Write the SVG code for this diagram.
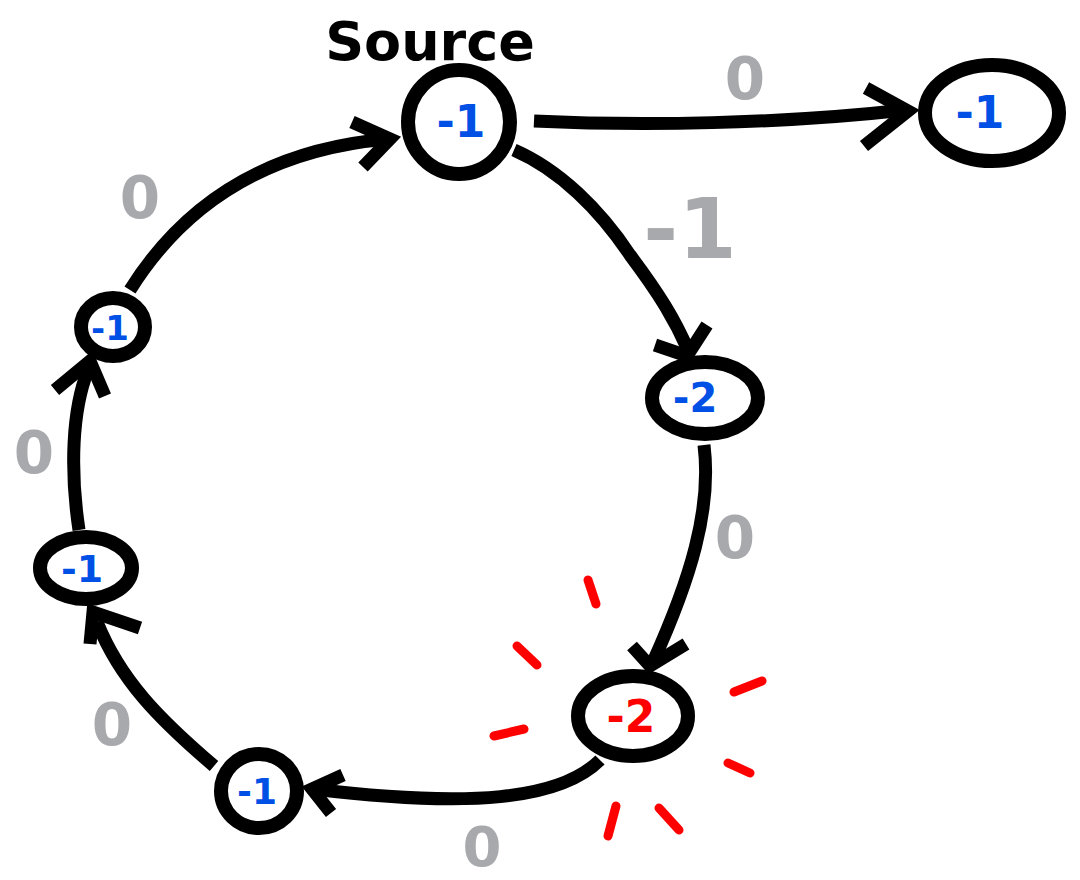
<svg xmlns="http://www.w3.org/2000/svg" width="1080" height="880" viewBox="0 0 1080 880">
<style>
.node{fill:#fff;stroke:#000;stroke-width:14}
.edge{fill:none;stroke:#000;stroke-width:13;stroke-linecap:butt;stroke-linejoin:round}
.head{fill:none;stroke:#000;stroke-width:13;stroke-linecap:butt;stroke-linejoin:miter}
.val{font-family:"DejaVu Sans","Liberation Sans",sans-serif;font-weight:bold;fill:#0050e6;text-anchor:middle}
.red{fill:#ff0000}
.w{font-family:"DejaVu Sans","Liberation Sans",sans-serif;font-weight:bold;fill:#a8a9ac;text-anchor:middle}
.burst{stroke:#ff0000;stroke-width:9;stroke-linecap:round;fill:none}
</style>
<rect width="1080" height="880" fill="#fff"/>
<g id="connectors">
  <path class="edge" d="M534,121 C640,126 780,124 905,110"/>
  <path class="head" d="M866,88 L908,111 L864,146"/>
  <path class="edge" d="M514,150 C560,170 600,210 630,255 C660,295 675,320 688,350"/>
  <path class="head" d="M655,345 L687,356 L707,325"/>
  <path class="edge" d="M704,445 C712,510 690,580 653,662"/>
  <path class="head" d="M632,646 L650,666 L686,644"/>
  <path class="edge" d="M600,760 C560,800 470,808 313,789"/>
  <path class="head" d="M343,775 L312,789 L331,813"/>
  <path class="edge" d="M214,766 C160,720 120,680 97,622"/>
  <path class="head" d="M90,644 L93,612 L140,628"/>
  <path class="edge" d="M79,530 C70,470 72,410 88,370"/>
  <path class="head" d="M55,390 L90,361 L105,396"/>
  <path class="edge" d="M130,290 C180,210 260,150 388,139"/>
  <path class="head" d="M352,122 L390,139 L363,167"/>
</g>
<g id="edge-labels">
  <text class="w" x="745" y="99" font-size="58">0</text>
  <text class="w" x="690" y="258" font-size="84">-1</text>
  <text class="w" x="735" y="558" font-size="58">0</text>
  <text class="w" x="482" y="866" font-size="56">0</text>
  <text class="w" x="112" y="745" font-size="58">0</text>
  <text class="w" x="34" y="473" font-size="58">0</text>
  <text class="w" x="140" y="218" font-size="58">0</text>
</g>
<g id="source-label">
  <text x="430" y="60" font-family="DejaVu Sans, Liberation Sans, sans-serif" font-weight="bold" font-size="54" fill="#000" text-anchor="middle">Source</text>
</g>
<g id="node-source">
  <ellipse class="node" cx="459" cy="122" rx="51" ry="52"/>
  <text class="val" x="461" y="137" font-size="44">-1</text>
</g>
<g id="node-right">
  <ellipse class="node" cx="992" cy="113" rx="67" ry="48"/>
  <text class="val" x="980" y="128" font-size="44">-1</text>
</g>
<g id="node-a">
  <ellipse class="node" cx="705" cy="398" rx="53" ry="36"/>
  <text class="val" x="695" y="412" font-size="40">-2</text>
</g>
<g id="node-b">
  <g class="burst">
    <path d="M588,580 L596,604"/>
    <path d="M517,646 L537,665"/>
    <path d="M494,736 L524,729"/>
    <path d="M734,692 L762,681"/>
    <path d="M728,763 L750,773"/>
    <path d="M616,806 L608,836"/>
    <path d="M659,808 L679,830"/>
  </g>
  <ellipse class="node" cx="633" cy="716" rx="55" ry="40"/>
  <text class="val red" x="631" y="732" font-size="44">-2</text>
</g>
<g id="node-c">
  <ellipse class="node" cx="259" cy="791" rx="38" ry="37"/>
  <text class="val" x="257" y="804" font-size="36">-1</text>
</g>
<g id="node-d">
  <ellipse class="node" cx="86" cy="568" rx="46" ry="31"/>
  <text class="val" x="82" y="582" font-size="38">-1</text>
</g>
<g id="node-e">
  <ellipse class="node" cx="113" cy="327" rx="32" ry="29"/>
  <text class="val" x="110" y="340" font-size="34">-1</text>
</g>
</svg>
